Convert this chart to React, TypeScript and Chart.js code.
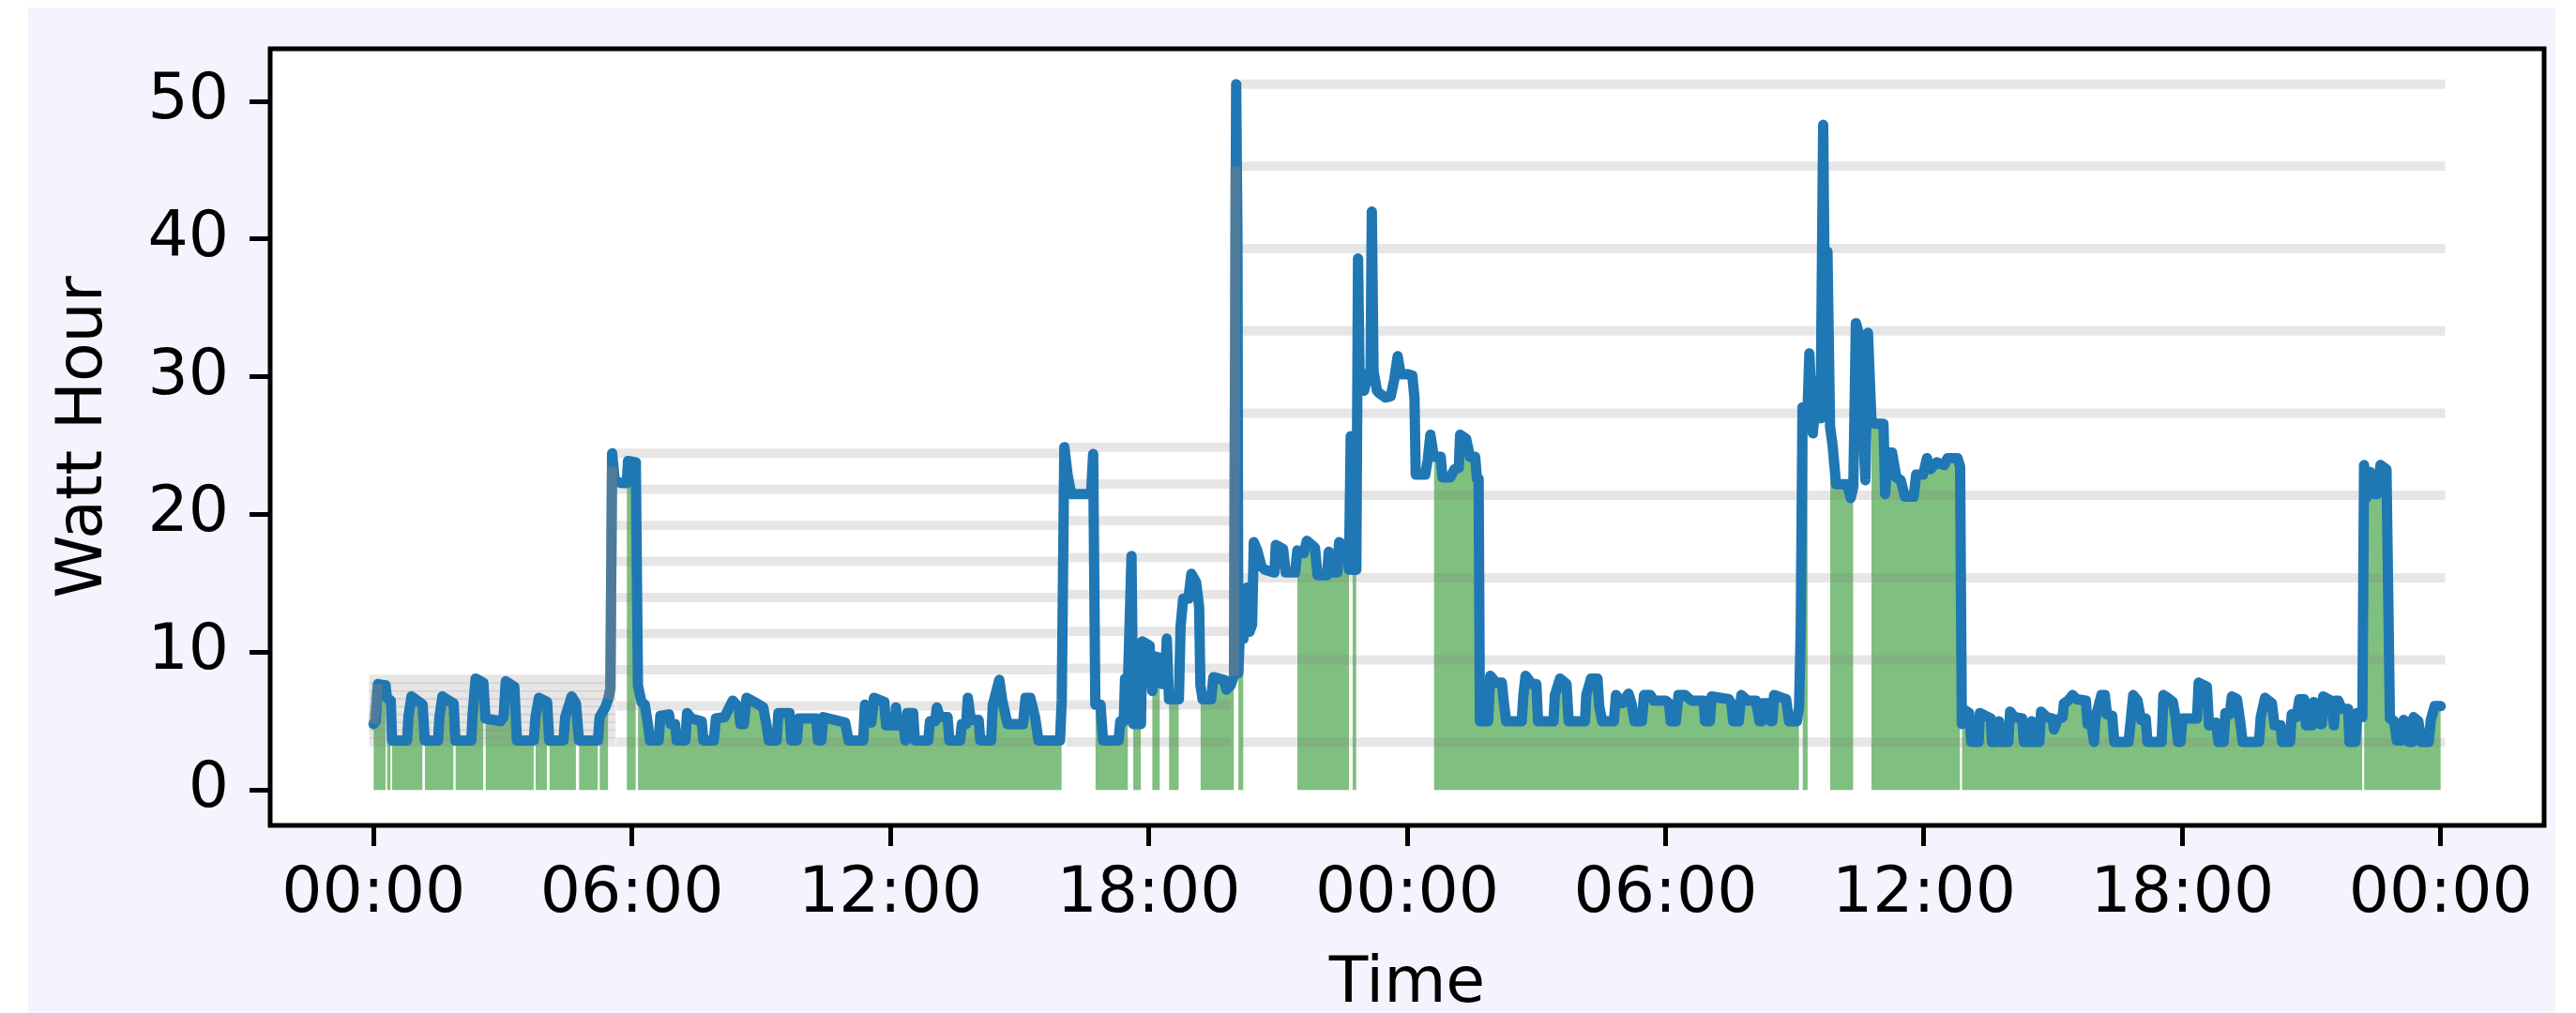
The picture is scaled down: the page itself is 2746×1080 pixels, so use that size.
import React, { useEffect, useRef } from "react";
import { Chart, registerables } from "chart.js";

Chart.register(...registerables);

// Time in hours from the first midnight, energy in Wh.
const times = [
  0.0, 0.05, 0.1, 0.28, 0.31, 0.4, 0.43, 0.78, 0.81, 0.88, 1.06, 1.14, 1.19, 1.5, 1.53, 1.6, 1.8, 1.86, 1.9,
  2.27, 2.3, 2.37, 2.55, 2.6, 2.95, 3.02, 3.07, 3.27, 3.33, 3.72, 3.76, 3.84, 4.03, 4.08, 4.41, 4.45, 4.6, 4.7,
  4.77, 5.21, 5.25, 5.38, 5.45, 5.5, 5.54, 5.6, 5.66, 5.76, 5.88, 5.91, 6.09, 6.14, 6.22, 6.3, 6.37, 6.42, 6.62,
  6.66, 6.86, 6.9, 7.0, 7.04, 7.24, 7.28, 7.38, 7.62, 7.66, 7.9, 7.95, 8.15, 8.34, 8.48, 8.52, 8.6, 8.66, 8.9,
  9.05, 9.12, 9.18, 9.36, 9.4, 9.66, 9.7, 9.83, 9.87, 10.28, 10.32, 10.4, 10.44, 10.95, 11.03, 11.37, 11.41,
  11.5, 11.56, 11.62, 11.86, 11.9, 12.1, 12.13, 12.17, 12.31, 12.35, 12.39, 12.53, 12.57, 12.88, 12.92, 13.04,
  13.08, 13.15, 13.33, 13.37, 13.62, 13.66, 13.76, 13.8, 13.87, 14.05, 14.09, 14.34, 14.38, 14.53, 14.6, 14.72,
  15.08, 15.14, 15.25, 15.36, 15.44, 15.94, 15.98, 16.04, 16.12, 16.2, 16.66, 16.71, 16.76, 16.88, 16.94, 17.3,
  17.34, 17.42, 17.45, 17.52, 17.6, 17.64, 17.82, 17.85, 18.02, 18.08, 18.14, 18.26, 18.3, 18.37, 18.42, 18.47,
  18.7, 18.74, 18.8, 18.92, 18.99, 19.1, 19.17, 19.2, 19.25, 19.45, 19.5, 19.75, 19.8, 19.9, 19.98, 20.03, 20.06,
  20.08, 20.14, 20.2, 20.28, 20.34, 20.4, 20.44, 20.52, 20.62, 20.7, 20.92, 20.95, 21.12, 21.18, 21.4, 21.45,
  21.6, 21.67, 21.86, 21.92, 22.14, 22.18, 22.27, 22.38, 22.42, 22.6, 22.65, 22.69, 22.73, 22.82, 22.86, 22.9,
  23.0, 23.1, 23.15, 23.18, 23.22, 23.3, 23.36, 23.5, 23.62, 23.7, 23.78, 23.85, 24.0, 24.12, 24.17, 24.2, 24.42,
  24.48, 24.54, 24.62, 24.78, 24.82, 25.0, 25.1, 25.2, 25.23, 25.37, 25.46, 25.58, 25.62, 25.66, 25.69, 25.88,
  25.93, 26.06, 26.2, 26.24, 26.3, 26.66, 26.7, 26.75, 26.9, 27.0, 27.04, 27.4, 27.43, 27.55, 27.7, 27.75, 28.13,
  28.16, 28.27, 28.42, 28.46, 28.53, 28.8, 28.85, 28.99, 29.14, 29.21, 29.28, 29.45, 29.5, 29.65, 29.72, 30.0,
  30.08, 30.12, 30.24, 30.3, 30.45, 30.6, 30.88, 30.92, 31.03, 31.07, 31.47, 31.53, 31.57, 31.7, 31.76, 31.9,
  32.1, 32.18, 32.24, 32.27, 32.4, 32.45, 32.48, 32.52, 32.8, 32.87, 33.05, 33.1, 33.14, 33.18, 33.3, 33.34,
  33.42, 33.52, 33.6, 33.66, 33.72, 33.76, 33.82, 33.88, 33.96, 34.22, 34.3, 34.36, 34.42, 34.5, 34.58, 34.64,
  34.7, 34.78, 34.86, 35.06, 35.1, 35.16, 35.26, 35.36, 35.46, 35.56, 35.76, 35.82, 35.98, 36.07, 36.15, 36.3,
  36.47, 36.55, 36.78, 36.84, 36.88, 36.95, 37.05, 37.1, 37.27, 37.3, 37.55, 37.58, 37.7, 37.74, 37.8, 37.96,
  38.0, 38.1, 38.28, 38.32, 38.46, 38.5, 38.55, 38.68, 38.72, 38.85, 38.98, 39.02, 39.1, 39.22, 39.25, 39.35,
  39.45, 39.55, 39.76, 39.8, 39.9, 39.95, 39.98, 40.12, 40.2, 40.25, 40.37, 40.42, 40.75, 40.8, 40.86, 40.96,
  41.04, 41.15, 41.19, 41.52, 41.56, 41.66, 41.78, 41.84, 41.9, 41.96, 42.0, 42.34, 42.38, 42.57, 42.62, 42.78,
  42.84, 42.96, 43.0, 43.1, 43.15, 43.27, 43.35, 43.4, 43.78, 43.82, 43.92, 44.08, 44.14, 44.28, 44.32, 44.5,
  44.54, 44.65, 44.72, 44.83, 44.87, 45.01, 45.05, 45.15, 45.2, 45.24, 45.27, 45.45, 45.52, 45.56, 45.62, 45.7,
  45.85, 45.88, 46.02, 46.06, 46.18, 46.22, 46.27, 46.36, 46.46, 46.52, 46.6, 46.74, 46.82, 46.92, 46.98, 47.08,
  47.14, 47.22, 47.26, 47.34, 47.37, 47.48, 47.55, 47.72, 47.77, 47.86, 48.0,
];

const watts = [
  4.8, 5.0, 7.7, 7.6, 6.7, 6.5, 3.6, 3.6, 5.3, 6.8, 6.4, 6.2, 3.6, 3.6, 5.3, 6.8, 6.4, 6.3, 3.6,
  3.6, 5.5, 8.1, 7.8, 5.2, 5.0, 5.3, 7.9, 7.5, 3.6, 3.6, 5.3, 6.7, 6.4, 3.6, 3.6, 5.3, 6.8, 6.3,
  3.6, 3.6, 5.3, 6.0, 6.6, 7.4, 24.45, 22.5, 22.4, 22.3, 22.3, 23.9, 23.8, 7.6, 6.4, 6.2, 4.8, 3.6, 3.6,
  5.4, 5.5, 4.8, 4.8, 3.6, 3.6, 5.6, 5.2, 5.0, 3.6, 3.6, 5.2, 5.3, 6.5, 6.0, 4.8, 4.8, 6.7, 6.3,
  6.0, 4.8, 3.6, 3.6, 5.6, 5.6, 3.6, 3.6, 5.2, 5.2, 3.6, 3.6, 5.3, 4.9, 3.6, 3.6, 6.2,
  6.0, 4.9, 6.7, 6.4, 4.7, 4.7, 6.0, 4.7, 4.7, 3.6, 5.6, 5.6, 3.6, 3.6, 5.0, 5.0,
  6.0, 5.3, 5.3, 3.6, 3.6, 4.8, 4.8, 6.7, 5.1, 5.1, 3.6, 3.6, 6.2, 8.0, 6.5, 4.8,
  4.8, 6.7, 6.7, 5.3, 3.6, 3.6, 6.5, 24.9, 22.8, 21.5, 21.5, 24.4, 6.2, 6.2, 3.6, 3.6,
  5.0, 5.0, 8.1, 8.1, 17.0, 4.8, 4.8, 10.8, 10.5, 7.2, 9.7, 9.6, 7.7, 7.7, 11.0, 6.6,
  6.6, 11.9, 13.9, 13.9, 15.7, 15.1, 13.3, 7.6, 6.6, 6.6, 8.2, 8.0, 7.3, 7.6, 8.3, 51.26, 40.0,
  8.5, 13.3, 11.0, 14.7, 11.5, 12.0, 18.0, 17.4, 16.2, 16.0, 15.8, 17.8, 17.5, 15.8, 15.8, 17.4,
  17.2, 18.1, 17.6, 15.6, 15.6, 17.3, 15.8, 15.8, 18.0, 17.6, 16.0, 25.7, 16.0, 16.0, 38.6, 29.2,
  29.0, 30.3, 29.9, 42.0, 30.4, 29.0, 28.8, 28.5, 28.6, 29.8, 31.5, 30.2, 30.2, 30.1, 28.5, 22.9, 22.9,
  24.0, 25.8, 24.2, 24.2, 22.7, 22.7, 23.3, 23.4, 25.8, 25.5, 24.2, 24.2, 22.6, 22.6, 5.0, 5.0,
  8.3, 7.8, 7.8, 6.5, 5.0, 5.0, 6.9, 8.3, 7.7, 7.7, 5.0, 5.0, 6.9, 8.1, 7.7, 5.0, 5.0,
  6.9, 8.1, 8.1, 6.1, 5.0, 5.0, 6.9, 6.3, 7.0, 6.3, 5.0, 5.0, 6.9, 6.9, 6.5, 6.5,
  6.3, 5.0, 5.0, 6.9, 6.9, 6.5, 6.5, 5.0, 5.0, 6.8, 6.6, 6.3, 5.0, 5.0, 6.9, 6.5,
  6.5, 5.0, 5.0, 6.3, 6.3, 5.0, 5.0, 6.9, 6.6, 5.0, 5.0, 6.0, 11.9, 27.8, 27.8, 31.7,
  25.9, 29.7, 27.0, 48.3, 28.0, 39.1, 26.4, 25.0, 22.2, 22.2, 21.2, 22.0, 33.9, 33.0, 26.9, 22.5,
  33.2, 26.9, 26.6, 26.6, 21.5, 24.5, 24.5, 22.7, 22.5, 21.3, 21.3, 22.9, 22.9, 24.1, 23.3, 23.8,
  23.6, 24.1, 24.1, 23.5, 4.8, 5.8, 5.6, 3.5, 3.5, 5.6, 5.2, 3.5, 3.5, 5.0, 3.5, 3.5,
  5.7, 5.3, 5.2, 3.5, 3.5, 5.0, 3.5, 3.5, 5.7, 5.3, 5.2, 4.4, 5.1, 5.3, 6.3, 6.5,
  6.9, 6.6, 6.5, 4.8, 4.6, 3.5, 5.2, 6.9, 6.9, 5.5, 5.4, 3.5, 3.5, 5.0, 6.9, 6.5,
  5.1, 5.2, 3.5, 3.5, 6.9, 6.7, 6.4, 5.3, 3.5, 3.5, 5.2, 5.2, 7.8, 7.5, 4.7, 4.9,
  3.5, 3.5, 5.6, 5.5, 6.8, 6.6, 4.8, 3.5, 3.5, 5.3, 6.7, 6.3, 4.7, 4.7, 3.5, 3.5,
  5.5, 5.3, 6.6, 6.6, 4.7, 4.7, 6.4, 6.2, 4.8, 4.8, 6.8, 6.5, 4.7, 6.5, 6.5, 5.9,
  5.9, 3.5, 3.5, 5.6, 5.3, 23.6, 21.2, 23.1, 21.5, 21.5, 23.6, 23.3, 5.2, 5.0, 3.6, 3.6,
  5.1, 4.9, 3.5, 3.5, 5.3, 5.0, 3.5, 3.5, 5.1, 6.1, 6.1,
];

// Periods (hours) shaded green under the curve.
const greenStart = [
  0.0, 0.31, 0.43, 1.19, 1.9, 2.6, 3.76, 4.08, 4.77, 5.25, 5.89, 6.15, 16.76, 17.63, 18.09, 18.5, 19.2, 20.1,
  21.5, 22.76, 24.6, 33.2, 33.84, 34.8, 36.87, 46.21,
];
const greenEnd = [
  0.28, 0.4, 1.14, 1.86, 2.55, 3.72, 4.03, 4.7, 5.21, 5.45, 6.1, 15.99, 17.55, 17.8, 18.22, 18.7, 19.95, 20.18,
  22.66, 22.79, 33.09, 33.28, 34.34, 36.85, 46.19, 48.0,
];

// Grey reference levels: each period spans from its start to its end hour.
const levelStart = [-0.1, 5.64, 16.08, 20.13];
const levelEnd = [5.62, 15.96, 19.9, 48.1];
const levelsNight = [8.05, 7.48, 6.91, 6.34, 5.78, 5.21, 4.64, 4.07, 3.5];
const levelsDay = [24.45, 21.83, 19.21, 16.6, 13.98, 11.36, 8.74, 6.12, 3.5];
const levelsEvening = [24.9, 22.23, 19.55, 16.88, 14.2, 11.53, 8.85, 6.18, 3.5];
const levelsRest = [51.26, 45.29, 39.31, 33.34, 27.37, 21.4, 15.42, 9.45, 3.48];

// Greyed transitions (null = break).
const tintTimes = [0.0, 0.1, 0.1, 5.45, 5.5, 5.538, 5.538, 19.98, 20.0145];
const tintWatts = [4.8, 7.7, null, 6.6, 7.4, 23.5, null, 8.3, 45.3];

const xTicks = [0, 6, 12, 18, 24, 30, 36, 42, 48];
const xTickLabels = ["00:00", "06:00", "12:00", "18:00", "00:00", "06:00", "12:00", "18:00", "00:00"];
const yTicks = [0, 10, 20, 30, 40, 50];
const yTickLabels = ["0", "10", "20", "30", "40", "50"];

const FONT = "DejaVu Sans";
const BLUE = "#1f77b4";
const GREEN = "rgba(0,128,0,0.5)";
const GREY = "rgba(128,128,128,0.2)";
const TINT = "rgba(128,128,128,0.5)";
const BG = "#f3f4fd";
const W = 2694;
const H = 1072;

const inGreen = (t: number) => greenStart.some((s, i) => t >= s && t <= greenEnd[i]);

const zeroPadding = (s: any) => {
  s.paddingTop = 0;
  s.paddingBottom = 0;
  s.paddingLeft = 0;
  s.paddingRight = 0;
};

export default function App() {
  const ref = useRef<HTMLCanvasElement | null>(null);

  useEffect(() => {
    if (!ref.current) return;
    const points = times.map((t, i) => ({ x: t, y: watts[i] }));
    const tintPoints = tintTimes.map((t, i) => ({ x: t, y: tintWatts[i] }));

    const levelSets = [levelsNight, levelsDay, levelsEvening, levelsRest];
    const greyDatasets: any[] = [];
    levelSets.forEach((levels, s) => {
      levels.forEach((lv) => {
        greyDatasets.push({
          data: [
            { x: levelStart[s], y: lv },
            { x: levelEnd[s], y: lv },
          ],
          borderColor: GREY,
          borderWidth: 10,
          borderCapStyle: "butt",
          pointRadius: 0,
          fill: false,
          order: 5,
        });
      });
    });

    const framePlugin = {
      id: "frame",
      beforeDraw(chart: any) {
        const { ctx, chartArea: a } = chart;
        ctx.save();
        ctx.fillStyle = "#ffffff";
        ctx.fillRect(a.left, a.top, a.right - a.left, a.bottom - a.top);
        ctx.restore();
      },
      afterDatasetsDraw(chart: any) {
        const { ctx, chartArea: a } = chart;
        ctx.save();
        ctx.strokeStyle = "#000000";
        ctx.lineWidth = 5;
        ctx.strokeRect(a.left, a.top, a.right - a.left, a.bottom - a.top);
        ctx.restore();
      },
    };

    const chart = new Chart(ref.current, {
      type: "line",
      data: {
        datasets: [
          {
            data: tintPoints,
            borderColor: TINT,
            borderWidth: 11,
            borderCapStyle: "butt",
            pointRadius: 0,
            fill: false,
            spanGaps: false,
            order: 0,
          } as any,
          {
            data: points,
            borderColor: BLUE,
            borderWidth: 11,
            borderJoinStyle: "round",
            borderCapStyle: "round",
            pointRadius: 0,
            fill: false,
            order: 1,
          } as any,
          ...greyDatasets,
          {
            data: points,
            borderColor: "rgba(0,0,0,0)",
            borderWidth: 0,
            backgroundColor: "rgba(0,0,0,0)",
            pointRadius: 0,
            fill: "origin",
            order: 10,
            segment: {
              backgroundColor: (c: any) =>
                inGreen((times[c.p0DataIndex] + times[c.p1DataIndex]) / 2) ? GREEN : "rgba(0,0,0,0)",
            },
          } as any,
        ],
      },
      options: {
        animation: false,
        responsive: false,
        devicePixelRatio: 1,
        layout: { padding: { left: 0, top: 44, right: 12, bottom: 0 } },
        plugins: {
          legend: { display: false },
          tooltip: { enabled: false },
          filler: { drawTime: "beforeDatasetsDraw" },
        } as any,
        scales: {
          x: {
            type: "linear",
            min: -2.4,
            max: 50.4,
            afterBuildTicks: (s: any) => {
              s.ticks = xTicks.map((v) => ({ value: v }));
            },
            afterFit: (s: any) => {
              s.height = 200;
              zeroPadding(s);
            },
            ticks: {
              autoSkip: false,
              maxRotation: 0,
              minRotation: 0,
              padding: 12,
              color: "#000",
              font: { family: FONT, size: 68 },
              callback: (_v: any, i: number) => xTickLabels[i],
            },
            grid: {
              display: true,
              drawOnChartArea: false,
              drawTicks: true,
              tickLength: 22,
              tickWidth: 5,
              tickColor: "#000",
            },
            border: { display: false },
            title: {
              display: true,
              text: "Time",
              color: "#000",
              font: { family: FONT, size: 68, lineHeight: 0.8 },
              padding: { top: 0, bottom: 2 },
            },
          },
          y: {
            type: "linear",
            min: -2.563,
            max: 53.823,
            afterBuildTicks: (s: any) => {
              s.ticks = yTicks.map((v) => ({ value: v }));
            },
            afterFit: (s: any) => {
              s.width = 258;
              zeroPadding(s);
            },
            ticks: {
              padding: 22,
              color: "#000",
              font: { family: FONT, size: 68 },
              callback: (_v: any, i: number) => yTickLabels[i],
            },
            grid: {
              display: true,
              drawOnChartArea: false,
              drawTicks: true,
              tickLength: 22,
              tickWidth: 5,
              tickColor: "#000",
            },
            border: { display: false },
            title: {
              display: true,
              text: "Watt Hour",
              color: "#000",
              font: { family: FONT, size: 68, lineHeight: 0.8 },
              padding: { top: 33, bottom: 0 },
            },
          },
        },
      } as any,
      plugins: [framePlugin],
    });

    return () => chart.destroy();
  }, []);

  return (
    <div
      style={{
        position: "absolute",
        left: 30,
        top: 8,
        width: W,
        height: H,
        background: BG,
      }}
    >
      <canvas ref={ref} width={W} height={H} style={{ display: "block", width: W, height: H }} />
    </div>
  );
}
